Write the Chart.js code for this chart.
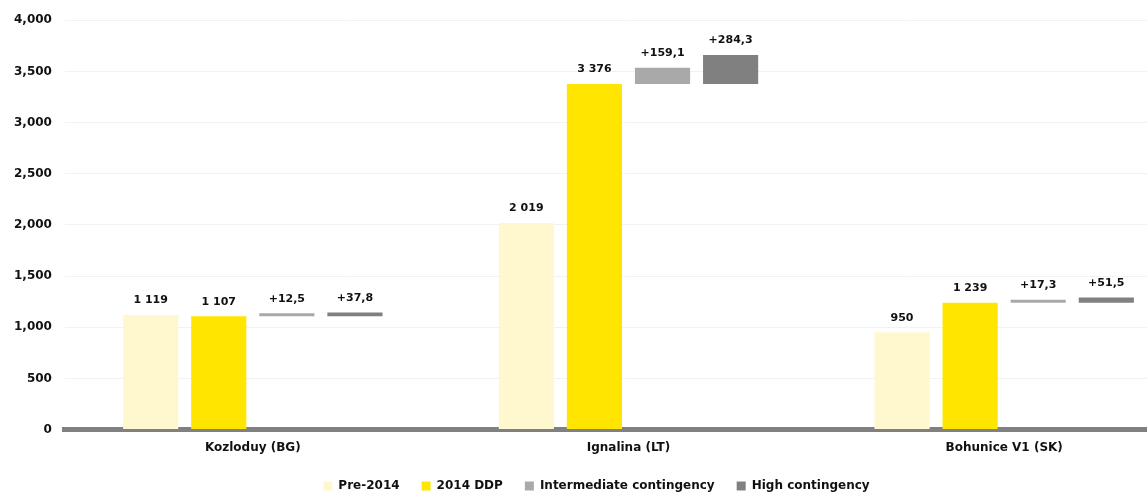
<!DOCTYPE html>
<html>
<head>
<meta charset="utf-8">
<script src="https://cdn.jsdelivr.net/npm/chart.js@4.4.1/dist/chart.umd.min.js"></script>
<style>
  html, body { margin: 0; padding: 0; background: #fff; overflow: hidden; }
  #wrap { width: 1192px; height: 502px; }
</style>
</head>
<body>
<div id="wrap"><canvas id="chart"></canvas></div>
<script>
const categories = ['Kozloduy (BG)', 'Ignalina (LT)', 'Bohunice V1 (SK)'];
const pre2014 = [1119, 2019, 950];
const ddp2014 = [1107, 3376, 1239];
const intermediate = [12.5, 159.1, 17.3];
const high = [37.8, 284.3, 51.5];
const yTicks = [0, 500, 1000, 1500, 2000, 2500, 3000, 3500, 4000];

const fontFamily = "'DejaVu Sans', Verdana, sans-serif";

function spaced(v) {
    return String(v).replace(/\B(?=(\d{3})+(?!\d))/g, ' ');
}
function plus(v) {
    return '+' + v.toFixed(1).replace('.', ',');
}

// contingency bars float on top of the 2014 DDP value
const interBars = ddp2014.map((d, i) => [d, d + intermediate[i]]);
const highBars = ddp2014.map((d, i) => [d, d + high[i]]);

const labelSets = [
    pre2014.map(spaced),
    ddp2014.map(spaced),
    intermediate.map(plus),
    high.map(plus)
];

const valueLabels = {
    id: 'valueLabels',
    afterDatasetsDraw(chart) {
        const ctx = chart.ctx;
        ctx.save();
        ctx.font = 'bold 11px ' + fontFamily;
        ctx.fillStyle = '#111';
        ctx.textAlign = 'center';
        ctx.textBaseline = 'bottom';
        chart.data.datasets.forEach((ds, di) => {
            const meta = chart.getDatasetMeta(di);
            meta.data.forEach((bar, i) => {
                const top = Math.min(bar.y, bar.base);
                ctx.fillText(labelSets[di][i], bar.x, top - 9);
            });
        });
        ctx.restore();
    }
};

const common = { categoryPercentage: 0.725, barPercentage: 0.81 };

new Chart(document.getElementById('chart'), {
    type: 'bar',
    data: {
        labels: categories,
        datasets: [
            Object.assign({ label: 'Pre-2014', data: pre2014, backgroundColor: '#FFF8CF' }, common),
            Object.assign({ label: '2014 DDP', data: ddp2014, backgroundColor: '#FFE500' }, common),
            Object.assign({ label: 'Intermediate contingency', data: interBars, backgroundColor: '#A9A9A9', minBarLength: 3 }, common),
            Object.assign({ label: 'High contingency', data: highBars, backgroundColor: '#808080', minBarLength: 3 }, common)
        ]
    },
    options: {
        responsive: true,
        maintainAspectRatio: false,
        animation: false,
        layout: { padding: { top: 15, left: 1, right: 0, bottom: 0 } },
        plugins: {
            tooltip: { enabled: false },
            legend: {
                position: 'bottom',
                labels: {
                    boxWidth: 9,
                    boxHeight: 9,
                    padding: 22,
                    color: '#111',
                    font: { family: fontFamily, size: 12, weight: 'bold' }
                }
            }
        },
        scales: {
            x: {
                grid: { display: false },
                border: { color: '#808080', width: 5 },
                ticks: {
                    color: '#111',
                    padding: 3,
                    font: { family: fontFamily, size: 12, weight: 'bold' }
                }
            },
            y: {
                min: 0,
                max: 4000,
                afterBuildTicks(axis) {
                    axis.ticks = yTicks.map(v => ({ value: v }));
                },
                grid: { color: '#f2f2f2', drawTicks: false },
                border: { display: false },
                ticks: {
                    color: '#111',
                    padding: 13,
                    font: { family: fontFamily, size: 12, weight: 'bold' },
                    callback: v => v.toLocaleString('en-US')
                }
            }
        }
    },
    plugins: [valueLabels]
});
</script>
</body>
</html>
